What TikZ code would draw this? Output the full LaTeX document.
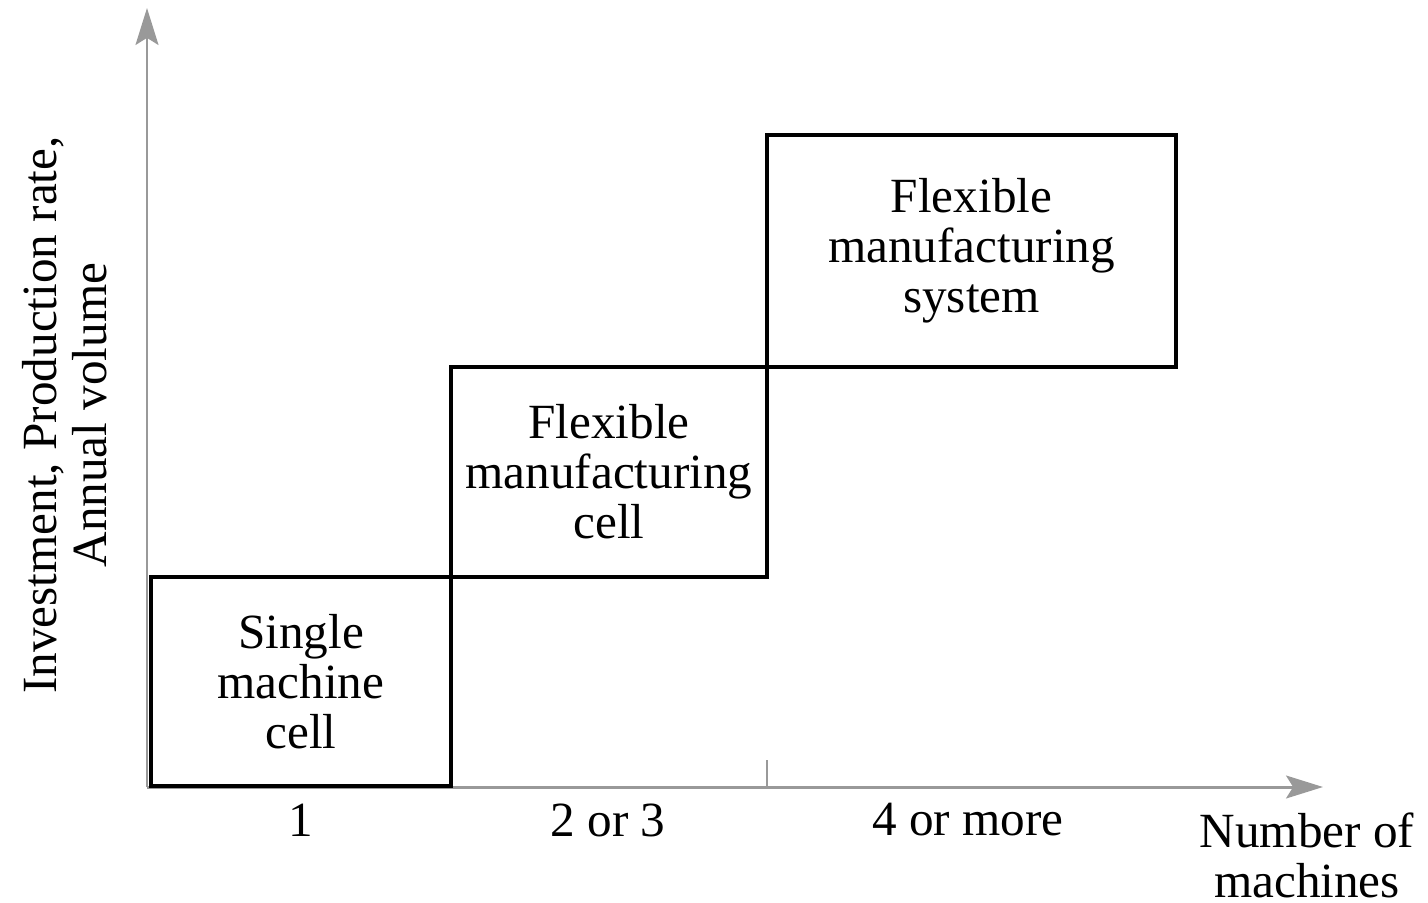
\documentclass[tikz,border=0pt]{standalone}
\usepackage{fontspec}
\setmainfont{Liberation Serif}
\usetikzlibrary{arrows.meta}
\begin{document}
\begin{tikzpicture}[x=0.02cm,y=-0.02cm,
  axis/.style={draw=black!40, line width=1.7pt},
  axarrow/.style={axis, -{Stealth[length=21pt,width=13pt,inset=4pt]}},
  box/.style={draw=black, line width=1.8pt, rectangle, inner sep=0pt, outer sep=0pt, align=center,
     font=\fontsize{28}{28.5}\selectfont},
  lbl/.style={font=\fontsize{28}{28.5}\selectfont, align=center, inner sep=0pt}]
\useasboundingbox (0,0) rectangle (1428,903);
% axes
\coordinate (O) at (147,787);
\coordinate (ytip) at (147,8);
\coordinate (xtip) at (1323,787);
\coordinate (tickb) at (767,787);
\coordinate (tickt) at (767,760);
\draw[axarrow] (O) -- (ytip);
\draw[axarrow] (O) -- (xtip);
\draw[axis] (tickb) -- (tickt);
% boxes
\node[box, minimum width=6cm, minimum height=4.18cm] (b1) at (301,681.5) {Single\\machine\\cell};
\node[box, minimum width=6.32cm, minimum height=4.2cm] (b2) at (609,472) {Flexible\\manufacturing\\cell};
\node[box, minimum width=8.18cm, minimum height=4.64cm] (b3) at (971.5,251) {Flexible\\manufacturing\\system};
% x labels
\node[lbl] (l1) at (301,820) {1};
\node[lbl] (l2) at (608,820) {2 or 3};
\node[lbl] (l3) at (968,820) {4 or more};
\node[lbl] (xl) at (1307,855) {Number of\\machines};
% y label
\node[lbl, rotate=90] (yl) at (65,415) {Investment, Production rate,\\Annual volume};
\end{tikzpicture}
\end{document}
